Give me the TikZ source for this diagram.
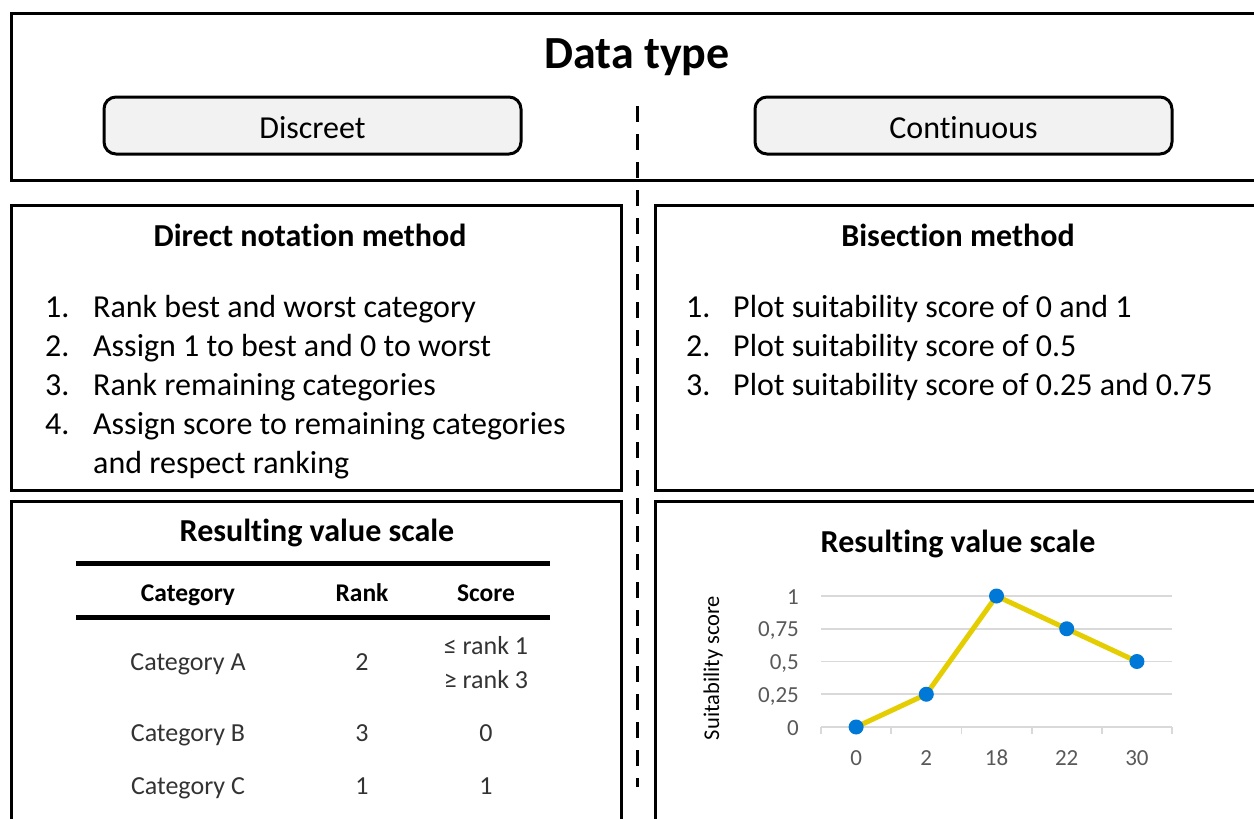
\documentclass[tikz,border=0pt]{standalone}
\usepackage{fontspec}
\setmainfont{Carlito}[Ligatures={NoCommon}]
\definecolor{boxgray}{HTML}{F2F2F2}
\definecolor{gridgray}{HTML}{D9D9D9}
\definecolor{axisgray}{HTML}{595959}
\definecolor{tabtext}{HTML}{333333}
\definecolor{serieyellow}{RGB}{228,205,0}
\definecolor{markerblue}{RGB}{0,120,215}
\begin{document}
\begin{tikzpicture}[x=1pt,y=-1pt,
  panel/.style={draw=black,line width=3pt},
  choice/.style={draw=black,line width=3pt,rounded corners=12pt,fill=boxgray,
    minimum width=417pt,minimum height=57pt,inner sep=0pt,
    text height=25pt,text depth=0pt,
    font=\fontsize{32}{38}\selectfont},
  divider/.style={line width=3pt,dash pattern=on 16pt off 12pt},
  ptitle/.style={anchor=base,font=\fontsize{32}{38}\selectfont\bfseries,inner sep=0pt},
  itemtxt/.style={anchor=base west,font=\fontsize{32}{38}\selectfont,inner sep=0pt},
  tabhead/.style={anchor=base,font=\fontsize{25.5}{30}\selectfont\bfseries,inner sep=0pt},
  tabcell/.style={anchor=base,font=\fontsize{26}{30}\selectfont,text=tabtext,inner sep=0pt},
  tabrule/.style={line width=5pt},
  grid/.style={draw=gridgray,line width=1.8pt},
  ylab/.style={anchor=base east,font=\fontsize{23}{27}\selectfont,text=axisgray,inner sep=0pt},
  xlab/.style={anchor=base,font=\fontsize{23}{27}\selectfont,text=axisgray,inner sep=0pt},
  serie/.style={draw=serieyellow,line width=5pt,line join=round},
  marker/.style={circle,fill=markerblue,minimum size=15pt,inner sep=0pt}
]
\useasboundingbox (0,0) rectangle (1254,819);
\clip (0,0) rectangle (1254,819);

% panels
\draw[panel] (11.5,13.5) rectangle (1275,180);
\draw[panel] (11.5,205) rectangle (621,490);
\draw[panel] (655,205) rectangle (1275,490);
\draw[panel] (11.5,501) rectangle (621,840);
\draw[panel] (655,501) rectangle (1275,840);

% dashed divider
\coordinate (dtop) at (637.5,106);
\coordinate (dbot) at (637.5,787);
\draw[divider] (dtop) -- (dbot);

% header
\node[anchor=base,font=\fontsize{46}{52}\selectfont\bfseries,inner sep=0pt] (title) at (637,68) {Data type};
\node[choice] (discreet) at (312.5,125.5) {Discreet};
\node[choice] (continuous) at (963.5,125.5) {Continuous};

% direct notation method
\node[ptitle] (dnm) at (310,246) {Direct notation method};
\node[itemtxt] (n1) at (45,317) {1.};
\node[itemtxt] (t1) at (93,317) {Rank best and worst category};
\node[itemtxt] (n2) at (45,356) {2.};
\node[itemtxt] (t2) at (93,356) {Assign 1 to best and 0 to worst};
\node[itemtxt] (n3) at (45,395) {3.};
\node[itemtxt] (t3) at (93,395) {Rank remaining categories};
\node[itemtxt] (n4) at (45,434) {4.};
\node[itemtxt] (t4) at (93,434) {Assign score to remaining categories};
\node[itemtxt] (t4b) at (93,473) {and respect ranking};

% bisection method
\node[ptitle] (bm) at (958,246) {Bisection method};
\node[itemtxt] (m1) at (686,317) {1.};
\node[itemtxt] (s1) at (733,317) {Plot suitability score of 0 and 1};
\node[itemtxt] (m2) at (686,356) {2.};
\node[itemtxt] (s2) at (733,356) {Plot suitability score of 0.5};
\node[itemtxt] (m3) at (686,395) {3.};
\node[itemtxt] (s3) at (733,395) {Plot suitability score of 0.25 and 0.75};

% resulting value scale (table)
\node[ptitle] (rvsl) at (317,541) {Resulting value scale};
\coordinate (r1a) at (76,563);
\coordinate (r1b) at (550,563);
\coordinate (r2a) at (76,617);
\coordinate (r2b) at (550,617);
\draw[tabrule] (r1a) -- (r1b);
\draw[tabrule] (r2a) -- (r2b);
\node[tabhead] (hcat) at (188,601) {Category};
\node[tabhead] (hrank) at (362,601) {Rank};
\node[tabhead] (hscore) at (486,601) {Score};
\node[tabcell] (ca) at (188,670) {Category A};
\node[tabcell] (ra) at (362,670) {2};
\node[tabcell] (sa1) at (486,654) {≤ rank 1};
\node[tabcell] (sa2) at (486,688) {≥ rank 3};
\node[tabcell] (cb) at (188,741) {Category B};
\node[tabcell] (rb) at (362,741) {3};
\node[tabcell] (sb) at (486,741) {0};
\node[tabcell] (cc) at (188,794) {Category C};
\node[tabcell] (rc) at (362,794) {1};
\node[tabcell] (sc) at (486,794) {1};

% resulting value scale (chart)
\node[ptitle] (rvsr) at (958,552) {Resulting value scale};
\foreach \v/\lab [count=\i] in {0/0,0.25/{0,25},0.5/{0,5},0.75/{0,75},1/1}{
  \draw[grid] (821,727-131*\v) -- (1172,727-131*\v);
  \node[ylab] (yl\i) at (799,735-131*\v) {\lab};
}
\foreach \k in {0,...,5}{
  \draw[grid] (821+70.2*\k,727) -- (821+70.2*\k,734);
}
\foreach \xl [count=\i from 0] in {0,2,18,22,30}{
  \node[xlab] (xl\i) at (856.1+70.2*\i,765) {\xl};
}
\node[rotate=90,font=\fontsize{22.5}{26}\selectfont,inner sep=0pt] (ytitle) at (713,668) {Suitability score};
\coordinate (c0) at (856.1,727);
\coordinate (c1) at (926.3,694.25);
\coordinate (c2) at (996.5,596);
\coordinate (c3) at (1066.7,628.75);
\coordinate (c4) at (1136.9,661.5);
\draw[serie] (c0) -- (c1) -- (c2) -- (c3) -- (c4);
\foreach \i in {0,...,4}{
  \node[marker] (p\i) at (c\i) {};
}
\end{tikzpicture}
\end{document}
